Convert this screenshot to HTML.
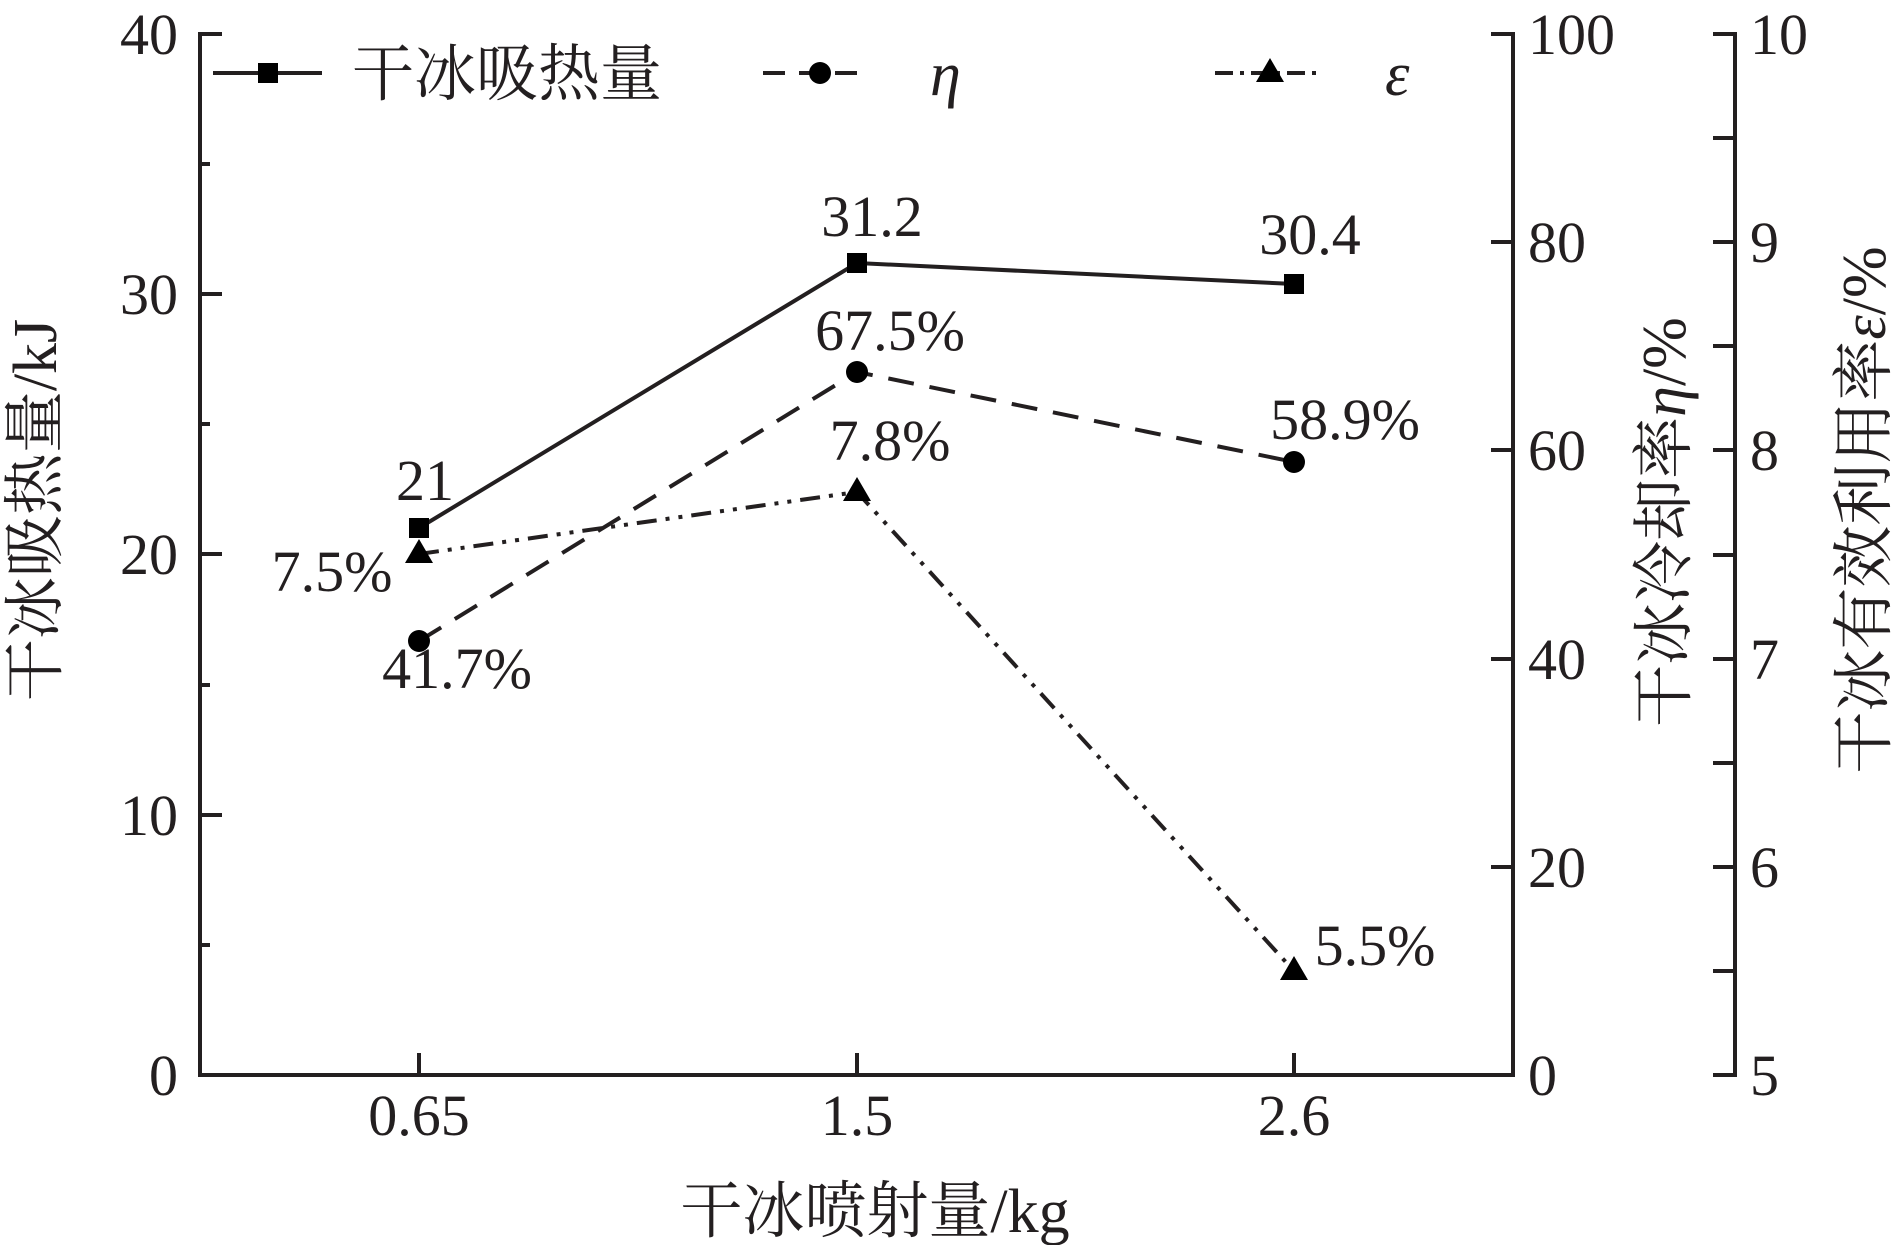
<!DOCTYPE html>
<html><head><meta charset="utf-8"><style>
html,body{margin:0;padding:0;background:#fff;}
svg text{font-family:"Liberation Serif","Noto Serif CJK SC",serif;fill:#231f20;}
</style></head><body>
<svg width="1892" height="1245" viewBox="0 0 1892 1245" xmlns="http://www.w3.org/2000/svg">
<g stroke="#231f20" stroke-width="4" fill="none">
<line x1="200" y1="32" x2="200" y2="1075"/>
<line x1="198" y1="1075" x2="1513" y2="1075"/>
<line x1="1513" y1="32" x2="1513" y2="1077"/>
<line x1="1735" y1="32" x2="1735" y2="1077"/>
<line x1="200" y1="34" x2="222" y2="34"/>
<line x1="200" y1="164" x2="210" y2="164"/>
<line x1="200" y1="294" x2="222" y2="294"/>
<line x1="200" y1="424" x2="210" y2="424"/>
<line x1="200" y1="554" x2="222" y2="554"/>
<line x1="200" y1="685" x2="210" y2="685"/>
<line x1="200" y1="815" x2="222" y2="815"/>
<line x1="200" y1="945" x2="210" y2="945"/>
<line x1="419" y1="1075" x2="419" y2="1053"/>
<line x1="857" y1="1075" x2="857" y2="1053"/>
<line x1="1294" y1="1075" x2="1294" y2="1053"/>
<line x1="1513" y1="34" x2="1491" y2="34"/>
<line x1="1513" y1="242" x2="1491" y2="242"/>
<line x1="1513" y1="450" x2="1491" y2="450"/>
<line x1="1513" y1="659" x2="1491" y2="659"/>
<line x1="1513" y1="867" x2="1491" y2="867"/>
<line x1="1513" y1="1075" x2="1491" y2="1075"/>
<line x1="1735" y1="34" x2="1713" y2="34"/>
<line x1="1735" y1="138" x2="1713" y2="138"/>
<line x1="1735" y1="242" x2="1713" y2="242"/>
<line x1="1735" y1="346" x2="1713" y2="346"/>
<line x1="1735" y1="450" x2="1713" y2="450"/>
<line x1="1735" y1="555" x2="1713" y2="555"/>
<line x1="1735" y1="659" x2="1713" y2="659"/>
<line x1="1735" y1="763" x2="1713" y2="763"/>
<line x1="1735" y1="867" x2="1713" y2="867"/>
<line x1="1735" y1="971" x2="1713" y2="971"/>
<line x1="1735" y1="1075" x2="1713" y2="1075"/>
<polyline points="419,528 857,263 1294,284" stroke-width="4"/>
<polyline points="419,641 857,372 1294,462" stroke-width="4" stroke-dasharray="26 16"/>
<polyline points="419,554 857,492 1294,971" stroke-width="4" stroke-dasharray="20 9 4 9 4 9"/>
<line x1="213" y1="73" x2="322" y2="73" stroke-width="4"/>
<line x1="763" y1="73" x2="863" y2="73" stroke-width="4" stroke-dasharray="22 14"/>
<line x1="1215" y1="73" x2="1318" y2="73" stroke-width="4" stroke-dasharray="18 7 4 7"/>
</g>
<g fill="#000">
<rect x="409" y="518" width="20" height="20"/>
<rect x="847" y="253" width="20" height="20"/>
<rect x="1284" y="274" width="20" height="20"/>
<circle cx="419" cy="641" r="11"/>
<circle cx="857" cy="372" r="11"/>
<circle cx="1294" cy="462" r="11"/>
<polygon points="419,539 405,563 433,563"/>
<polygon points="857,477 843,501 871,501"/>
<polygon points="1294,956 1280,980 1308,980"/>
<rect x="258" y="63" width="20" height="20"/>
<circle cx="820" cy="73" r="11"/>
<polygon points="1270,58 1256,82 1284,82"/>
</g>
<g font-size="58">
<g text-anchor="end">
<text x="178" y="54">40</text>
<text x="178" y="314">30</text>
<text x="178" y="574">20</text>
<text x="178" y="835">10</text>
<text x="178" y="1095">0</text>
</g>
<g text-anchor="start">
<text x="1528" y="54">100</text>
<text x="1528" y="262">80</text>
<text x="1528" y="470">60</text>
<text x="1528" y="679">40</text>
<text x="1528" y="887">20</text>
<text x="1528" y="1095">0</text>
<text x="1750" y="54">10</text>
<text x="1750" y="262">9</text>
<text x="1750" y="470">8</text>
<text x="1750" y="679">7</text>
<text x="1750" y="887">6</text>
<text x="1750" y="1095">5</text>
</g>
<g text-anchor="middle">
<text x="419" y="1135">0.65</text>
<text x="857" y="1135">1.5</text>
<text x="1294" y="1135">2.6</text>
<text x="425" y="500">21</text>
<text x="872" y="236">31.2</text>
<text x="1310" y="254">30.4</text>
<text x="890" y="350">67.5%</text>
<text x="1345" y="439">58.9%</text>
<text x="890" y="460">7.8%</text>
<text x="332" y="591">7.5%</text>
<text x="457" y="688">41.7%</text>
<text x="1375" y="965">5.5%</text>
</g>
</g>
<g font-size="62">
<text x="352" y="95">干冰吸热量</text>
<text x="930" y="95" font-style="italic">η</text>
<text x="1385" y="95" font-style="italic">ε</text>
<text x="875" y="1232" text-anchor="middle">干冰喷射量/kg</text>
<text transform="translate(56,510) rotate(-90)" text-anchor="middle">干冰吸热量/kJ</text>
<text transform="translate(1685,522) rotate(-90)" text-anchor="middle">干冰冷却率<tspan font-style="italic">η</tspan>/%</text>
<text transform="translate(1885,510) rotate(-90)" text-anchor="middle">干冰有效利用率<tspan font-style="italic">ε</tspan>/%</text>
</g>
</svg>
</body></html>
